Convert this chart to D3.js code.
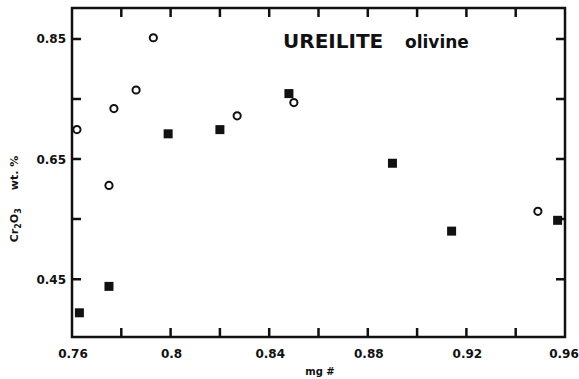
<!DOCTYPE html>
<html>
<head>
<meta charset="utf-8">
<script src="https://cdn.jsdelivr.net/npm/d3@7"></script>
<style>
  body { margin: 0; background: #fff; }
  text { font-family: "DejaVu Sans", "Liberation Sans", sans-serif; font-weight: bold; fill: #111; }
</style>
</head>
<body>
<svg id="chart"></svg>
<script>
const width = 579;
const height = 379;

// data (mg#, Cr2O3 wt.%)
const openMg  = [0.762, 0.775, 0.777, 0.786, 0.793, 0.827, 0.850, 0.949];
const openCr  = [0.699, 0.606, 0.734, 0.765, 0.852, 0.722, 0.744, 0.563];
const solidMg = [0.763, 0.775, 0.799, 0.820, 0.848, 0.890, 0.914, 0.957];
const solidCr = [0.394, 0.438, 0.692, 0.699, 0.759, 0.643, 0.530, 0.548];

const xTicks = [0.78, 0.80, 0.82, 0.84, 0.86, 0.88, 0.90, 0.92, 0.94];
const xLabels = ['0.76', '0.8', '0.84', '0.88', '0.92', '0.96'];
const yTicks = [0.45, 0.55, 0.65, 0.75, 0.85];
const yLabels = ['0.45', '0.65', '0.85'];

const svg = d3.select('#chart')
  .attr('width', width)
  .attr('height', height);

const mLeft = 72, mRight = 565, mTop = 8, mBottom = 337;
const tickLen = 9, tickW = 2.5;

const x = d3.scaleLinear().domain([0.76, 0.96]).range([mLeft, mRight]);
const y = d3.scaleLinear().domain([0.3537, 0.9015]).range([mBottom, mTop]);

// frame
svg.append('rect')
  .attr('x', mLeft).attr('y', mTop)
  .attr('width', mRight - mLeft).attr('height', mBottom - mTop)
  .attr('fill', 'none').attr('stroke', '#111').attr('stroke-width', 2.5);

// inward ticks on all four sides, one path
const tickPath = d3.path();
xTicks.forEach(d => {
  tickPath.moveTo(x(d), mBottom); tickPath.lineTo(x(d), mBottom - tickLen);
  tickPath.moveTo(x(d), mTop); tickPath.lineTo(x(d), mTop + tickLen);
});
yTicks.forEach(d => {
  tickPath.moveTo(mLeft, y(d)); tickPath.lineTo(mLeft + tickLen, y(d));
  tickPath.moveTo(mRight, y(d)); tickPath.lineTo(mRight - tickLen, y(d));
});
svg.append('path')
  .attr('d', tickPath.toString())
  .attr('fill', 'none')
  .attr('stroke', '#111')
  .attr('stroke-width', tickW);

// tick labels
svg.append('g').selectAll('text').data(xLabels)
  .enter().append('text')
  .attr('x', d => Math.min(x(+d) + 1, width - 15))
  .attr('y', 358)
  .attr('text-anchor', 'middle')
  .attr('font-size', 12)
  .text(d => d);

svg.append('g').selectAll('text').data(yLabels)
  .enter().append('text')
  .attr('x', 66)
  .attr('y', d => y(+d) + 4.5)
  .attr('text-anchor', 'end')
  .attr('font-size', 12)
  .text(d => d);

// markers
svg.selectAll('circle.open').data(openMg)
  .enter().append('circle')
  .attr('class', 'open')
  .attr('cx', d => x(d))
  .attr('cy', (d, i) => y(openCr[i]))
  .attr('r', 3.6)
  .attr('fill', '#fff')
  .attr('stroke', '#111')
  .attr('stroke-width', 2);

const s = 9;
svg.selectAll('rect.solid').data(solidMg)
  .enter().append('rect')
  .attr('class', 'solid')
  .attr('x', d => x(d) - s / 2)
  .attr('y', (d, i) => y(solidCr[i]) - s / 2)
  .attr('width', s).attr('height', s)
  .attr('fill', '#111');

// labels
svg.append('text')
  .attr('x', 283).attr('y', 48)
  .attr('font-family', '"Liberation Sans", Arial, sans-serif')
  .attr('font-size', 20)
  .text('UREILITE');

svg.append('text')
  .attr('x', 405).attr('y', 48)
  .attr('font-family', '"Liberation Sans", Arial, sans-serif')
  .attr('font-size', 17)
  .text('olivine');

svg.append('text')
  .attr('x', 320).attr('y', 375)
  .attr('text-anchor', 'middle')
  .attr('font-size', 10)
  .text('mg #');

svg.append('text')
  .attr('transform', 'translate(18,199) rotate(-90)')
  .attr('text-anchor', 'middle')
  .attr('font-size', 11)
  .html('Cr<tspan dy="3" font-size="8">2</tspan><tspan dy="-3">O</tspan><tspan dy="3" font-size="8">3</tspan><tspan dy="-3" dx="18">wt. %</tspan>');
</script>
</body>
</html>
